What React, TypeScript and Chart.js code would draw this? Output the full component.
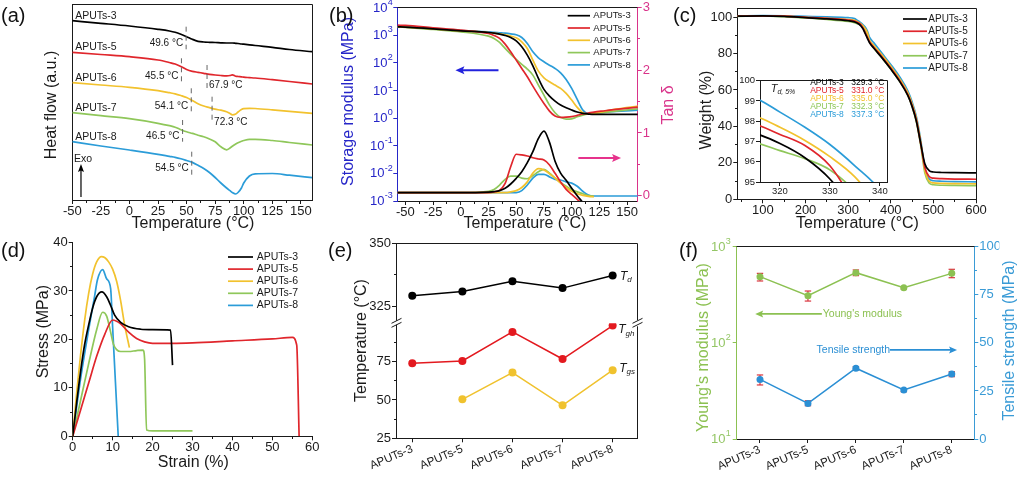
import React, { useEffect, useRef } from 'react';
import { Chart, registerables } from 'chart.js';

Chart.register(...registerables);

const FONT = '"Liberation Sans", Arial, Helvetica, sans-serif';
const INK = '#1a1a1a';
const BLUE_AX = '#2626c8';
const PINK_AX = '#d9338a';
const GREEN_AX = '#8cc152';
const CYAN_AX = '#3a9bd6';
const LW = 1.7;

// ---------- shared ----------
const samples = ['APUTs-3', 'APUTs-5', 'APUTs-6', 'APUTs-7', 'APUTs-8'];
const sampleColors = ['#000000', '#e0262c', '#f2c22e', '#8fc75a', '#2b9cd8'];

// ---------- (a) DSC ----------
const dscTemp = [-50, -25, 0, 25, 35, 40, 45, 50, 55, 60, 65, 70, 75, 80, 85, 88, 90, 93, 95, 98, 100, 105, 110, 125, 140, 160];
const dsc3 = [17.93, 17.67, 17.4, 17.07, 16.9, 16.77, 16.57, 16.33, 16.07, 15.87, 15.8, 15.77, 15.75, 15.72, 15.7, 15.7, 15.7, 15.67, 15.65, 15.6, 15.58, 15.52, 15.45, 15.27, 15.05, 14.83];
const dsc5 = [14.77, 14.55, 14.33, 14.0, 13.75, 13.6, 13.35, 13.05, 12.87, 12.77, 12.67, 12.57, 12.5, 12.45, 12.42, 12.45, 12.52, 12.38, 12.35, 12.31, 12.28, 12.24, 12.2, 12.03, 11.85, 11.6];
const dsc6 = [11.73, 11.5, 11.27, 10.93, 10.73, 10.62, 10.45, 10.25, 9.95, 9.63, 9.4, 9.24, 9.08, 8.98, 8.83, 8.65, 8.52, 8.6, 8.8, 9.05, 9.14, 9.17, 9.15, 9.02, 8.87, 8.67];
const dsc7 = [8.73, 8.43, 8.13, 7.67, 7.43, 7.28, 7.03, 6.82, 6.66, 6.48, 6.32, 6.1, 5.82, 5.32, 5.02, 5.2, 5.37, 5.6, 5.73, 5.87, 5.95, 6.07, 6.07, 5.95, 5.75, 5.5];
const dsc8 = [5.83, 5.4, 5.0, 4.57, 4.37, 4.27, 4.13, 3.95, 3.76, 3.47, 3.15, 2.75, 2.25, 1.7, 1.2, 0.93, 0.75, 0.6, 0.75, 1.2, 1.7, 2.4, 2.62, 2.65, 2.48, 2.23];
const dscTransitions = [49.6, 45.5, 67.9, 54.1, 72.3, 46.5, 54.5];
// annotation placement (heat-flow units)
const dscMarkTop = [17.33, 14.17, 13.5, 11.17, 10.33, 8.0, 4.83];
const dscMarkBottom = [15.07, 11.83, 11.17, 8.83, 7.83, 5.83, 2.5];
const dscMarkLabelY = [15.67, 12.4, 11.43, 9.33, 7.73, 6.33, 3.17];
const dscMarkSide = ['left', 'left', 'right', 'left', 'right', 'left', 'left'];
const dscNameY = [18.43, 15.3, 12.2, 9.2, 6.3];

// ---------- (b) DMA ----------
const dmaTemp = [-57, -50, -25, 0, 25, 30, 35, 40, 45, 50, 55, 60, 65, 70, 75, 80, 85, 90, 95, 100, 105, 110, 115, 120, 130, 140, 160];
const mod3 = [2000, 1950, 1694, 1436, 1248, 1180, 1086, 972, 824, 624, 378, 189, 78, 27.2, 10.9, 6.24, 4.11, 2.95, 2.36, 1.95, 1.65, 1.47, 1.4, 1.36, 1.36, 1.36, 1.36];
const mod5 = [2296, 2250, 1841, 1517, 1148, 972, 759, 473, 250, 125, 62.4, 31.2, 14.3, 6.78, 3.39, 1.79, 1.18, 1.06, 1.08, 1.13, 1.25, 1.4, 1.52, 1.65, 1.84, 2.06, 2.5];
const mod6 = [2000, 1950, 1694, 1436, 1248, 1180, 1114, 1028, 920, 801, 574, 330, 125, 50, 28.7, 20.6, 15.6, 11.8, 7.79, 4.48, 2.43, 1.56, 1.4, 1.47, 1.79, 2.11, 2.72];
const mod7 = [2000, 1920, 1603, 1318, 920, 759, 543, 330, 205, 132, 87, 59, 35.8, 15.6, 6.78, 2.95, 1.56, 1.06, 0.92, 0.94, 1.12, 1.28, 1.4, 1.47, 1.6, 1.79, 2.17];
const mod8 = [2000, 1950, 1694, 1465, 1318, 1250, 1216, 1180, 1114, 1028, 824, 500, 250, 152, 109, 82, 62.4, 43.5, 25, 11.8, 4.73, 1.95, 1.47, 1.52, 1.65, 1.73, 1.95];
const tan3 = [0.048, 0.048, 0.048, 0.048, 0.058, 0.065, 0.08, 0.117, 0.186, 0.276, 0.382, 0.526, 0.701, 0.913, 1.03, 0.85, 0.55, 0.36, 0.245, 0.12, 0.0, -0.11, -0.23, -0.35, null, null, null];
const tan5 = [0.048, 0.048, 0.048, 0.048, 0.05, 0.06, 0.085, 0.196, 0.462, 0.66, 0.65, 0.632, 0.605, 0.585, 0.568, 0.49, 0.356, 0.22, 0.1, 0.02, -0.06, -0.14, -0.22, null, null, null, null];
const tan6 = [0.048, 0.048, 0.048, 0.048, 0.048, 0.048, 0.048, 0.048, 0.06, 0.08, 0.13, 0.22, 0.36, 0.43, 0.41, 0.35, 0.28, 0.2, 0.13, 0.07, 0.03, 0.005, -0.01, -0.015, null, null, null];
const tan7 = [0.048, 0.048, 0.048, 0.048, 0.07, 0.1, 0.17, 0.26, 0.31, 0.31, 0.28, 0.27, 0.32, 0.38, 0.42, 0.36, 0.28, 0.21, 0.15, 0.1, 0.06, 0.03, 0.0, -0.01, null, null, null];
const tan8 = [0.048, 0.048, 0.048, 0.048, 0.048, 0.048, 0.048, 0.048, 0.048, 0.05, 0.08, 0.17, 0.28, 0.34, 0.34, 0.3, 0.26, 0.25, 0.22, 0.2, 0.15, 0.07, 0.01, -0.005, -0.005, -0.005, -0.005];

// ---------- (c) TGA ----------
const tgaTemp = [40, 100, 150, 200, 250, 300, 315, 320, 325, 330, 335, 340, 345, 350, 360, 380, 400, 420, 440, 450, 460, 470, 480, 490, 500, 520, 550, 600];
const wt3 = [100.5, 100.7, 100.4, 99.7, 99.0, 98.0, 97.4, 96.9, 96.2, 95.15, 93.5, 91.0, 88.5, 86.0, 83.0, 77.5, 71.5, 65.0, 57.0, 51.0, 43.0, 31.0, 19.5, 15.8, 15.0, 14.7, 14.6, 14.5];
const wt5 = [100.5, 100.7, 100.5, 99.9, 99.3, 98.4, 97.85, 97.35, 96.8, 95.8, 93.9, 91.5, 89.0, 86.5, 83.5, 78.0, 72.0, 65.5, 57.5, 51.5, 43.5, 31.0, 17.5, 12.5, 11.6, 11.3, 11.1, 11.0];
const wt6 = [100.5, 100.7, 100.5, 99.9, 99.3, 98.7, 98.25, 97.7, 97.05, 96.25, 95.25, 93.7, 91.5, 87.5, 84.5, 79.0, 73.0, 66.5, 58.5, 52.5, 44.5, 32.0, 16.0, 10.0, 9.0, 8.7, 8.6, 8.5];
const wt7 = [100.4, 100.6, 100.2, 99.5, 98.7, 97.6, 96.95, 96.55, 96.15, 95.6, 94.5, 92.5, 89.5, 86.5, 83.0, 77.5, 71.5, 65.0, 57.0, 51.0, 42.5, 30.0, 14.5, 9.0, 8.0, 7.7, 7.6, 7.5];
const wt8 = [100.6, 100.8, 100.7, 100.4, 100.1, 99.7, 99.15, 98.45, 97.7, 96.85, 95.8, 94.6, 92.5, 89.0, 86.0, 80.0, 74.0, 67.5, 59.5, 53.5, 45.5, 33.0, 17.0, 11.2, 10.2, 9.9, 9.7, 9.6];

// ---------- (d) tensile ----------
const strain3 = [0, 1, 2, 3, 4, 5, 6, 7.3, 8.5, 9.5, 10.5, 12, 14, 17, 20, 24.5, 25.0];
const stress3 = [0, 7, 13.5, 19, 23, 26.5, 28.8, 29.8, 28.8, 27, 25, 23.5, 22.6, 22.1, 22, 21.9, 14.7];
const strain5 = [0, 2, 4, 6, 8, 10, 12, 14, 16, 18, 20, 25, 30, 40, 50, 55, 56.1, 56.7];
const stress5 = [0, 5.5, 11, 16.5, 21, 24, 23.2, 21.5, 20.2, 19.5, 19.2, 19.2, 19.3, 19.7, 20.1, 20.4, 18.8, 0];
const strain6 = [0, 1, 2, 3, 4, 5, 6, 7.2, 8, 9, 10, 11, 12, 13, 14.2];
const stress6 = [0, 9, 17, 24, 29.5, 33.5, 36, 37.1, 36.9, 36, 34.5, 32, 28, 23, 18.3];
const strain7 = [0, 2, 4, 6, 7.5, 8.5, 9.5, 10.2, 11, 12, 14, 16, 17.6, 18, 18.5, 20, 30];
const stress7 = [0, 7.5, 15, 22, 25.6, 24.8, 21.5, 19, 17.9, 17.5, 17.5, 17.7, 17.8, 16, 1.3, 1.1, 1.1];
const strain8 = [0, 2, 4, 5.5, 6.2, 7.5, 8.5, 9.5, 10, 10.7, 11.4];
const stress8 = [0, 12, 22, 29, 32.3, 34.4, 32.5, 30.5, 22.5, 11.2, 0];

// ---------- (e) characteristic temperatures ----------
const td5 = [329.3, 331.0, 335.0, 332.3, 337.3];
const tgh = [74.0, 75.4, 94.4, 76.7, 98.5];
const tgs = [null, 50.4, 67.9, 46.5, 69.4];

// ---------- (f) mechanical ----------
const youngs = [488, 309, 537, 375, 528];
const youngsHi = [528, 346, 573, 384, 582];
const youngsLo = [440, 272, 500, 363, 476];
const tensile = [31.0, 18.5, 36.8, 25.5, 33.8];
const tensileHi = [33.3, 19.9, 37.6, 26.2, 35.0];
const tensileLo = [28.1, 17.3, 35.9, 24.6, 32.4];

// ================= helpers =================
const al = (p: number) => Math.round(p - 0.5) + 0.5;

function text(ctx: any, s: string, x: number, y: number, o: any = {}) {
  ctx.save();
  ctx.font = `${o.italic ? 'italic ' : ''}${o.size || 13}px ${FONT}`;
  ctx.fillStyle = o.color || INK;
  ctx.textAlign = o.align || 'left';
  ctx.textBaseline = o.baseline || 'middle';
  ctx.translate(x, y);
  if (o.rot) ctx.rotate(o.rot);
  ctx.fillText(s, 0, 0);
  ctx.restore();
}

function seg(ctx: any, x0: number, y0: number, x1: number, y1: number, color: string, lw = 1, dash: number[] | null = null) {
  ctx.save();
  ctx.strokeStyle = color;
  ctx.lineWidth = lw;
  if (dash) ctx.setLineDash(dash);
  ctx.beginPath();
  ctx.moveTo(x0, y0);
  ctx.lineTo(x1, y1);
  ctx.stroke();
  ctx.restore();
}

function arrow(ctx: any, x0: number, y0: number, x1: number, y1: number, color: string, lw = 1.5, hl = 8, hw = 3.5) {
  const ang = Math.atan2(y1 - y0, x1 - x0);
  ctx.save();
  ctx.strokeStyle = color;
  ctx.fillStyle = color;
  ctx.lineWidth = lw;
  ctx.beginPath();
  ctx.moveTo(x0, y0);
  ctx.lineTo(x1 - hl * 0.7 * Math.cos(ang), y1 - hl * 0.7 * Math.sin(ang));
  ctx.stroke();
  ctx.translate(x1, y1);
  ctx.rotate(ang);
  ctx.beginPath();
  ctx.moveTo(0, 0);
  ctx.lineTo(-hl, -hw);
  ctx.lineTo(-hl * 0.8, 0);
  ctx.lineTo(-hl, hw);
  ctx.closePath();
  ctx.fill();
  ctx.restore();
}

function minor(ctx: any, s: any, vals: number[], side: string, color: string, len = 2.5) {
  ctx.save();
  ctx.strokeStyle = color;
  ctx.lineWidth = 1;
  ctx.beginPath();
  for (const v of vals) {
    const p = al(s.getPixelForValue(v));
    if (side === 'bottom') {
      const y = al(s.top);
      ctx.moveTo(p, y);
      ctx.lineTo(p, y + len);
    } else if (side === 'left') {
      const x = al(s.right);
      ctx.moveTo(x, p);
      ctx.lineTo(x - len, p);
    } else {
      const x = al(s.left);
      ctx.moveTo(x, p);
      ctx.lineTo(x + len, p);
    }
  }
  ctx.stroke();
  ctx.restore();
}

function pow10(ctx: any, exp: number, xRight: number, y: number, color: string, size = 13) {
  const e = String(exp);
  ctx.save();
  ctx.fillStyle = color;
  ctx.textBaseline = 'middle';
  ctx.font = `${Math.round(size * 0.68)}px ${FONT}`;
  const ew = ctx.measureText(e).width;
  ctx.textAlign = 'left';
  ctx.fillText(e, xRight - ew, y - size * 0.4);
  ctx.font = `${size}px ${FONT}`;
  ctx.textAlign = 'right';
  ctx.fillText('10', xRight - ew - 0.3, y + 0.5);
  ctx.restore();
}

function legend(ctx: any, x0: number, x1: number, xt: number, y0: number, dy: number, size: number) {
  samples.forEach((s, i) => {
    const y = y0 + i * dy;
    seg(ctx, x0, y, x1, y, sampleColors[i], LW);
    text(ctx, s, xt, y, { size });
  });
}

function topRight(ctx: any, a: any, right = true) {
  seg(ctx, al(a.left), al(a.top), al(a.right), al(a.top), INK);
  if (right) seg(ctx, al(a.right), al(a.top), al(a.right), al(a.bottom), INK);
}

function subT(ctx: any, main: string, sub: string, x: number, y: number, size: number, color = INK) {
  ctx.save();
  ctx.fillStyle = color;
  ctx.textBaseline = 'middle';
  ctx.textAlign = 'left';
  ctx.font = `italic ${size}px ${FONT}`;
  ctx.fillText(main, x, y);
  const w = ctx.measureText(main).width;
  ctx.font = `italic ${Math.round(size * 0.68)}px ${FONT}`;
  ctx.fillText(sub, x + w, y + size * 0.3);
  ctx.restore();
}

function axisDef(pos: string, min: number, max: number, ticks: number[], color: string, o: any = {}) {
  const t: any = {
    display: !o.hideLabels,
    color,
    font: { family: FONT, size: o.size || 13, lineHeight: 1 },
    padding: o.tpad != null ? o.tpad : 1,
    autoSkip: false,
    maxRotation: o.rot || 0,
    minRotation: o.rot || 0,
  };
  if (o.cb) t.callback = o.cb;
  const d: any = {
    type: o.type || 'linear',
    position: pos,
    min,
    max,
    border: { display: true, color, width: 1 },
    grid: { display: true, drawOnChartArea: false, drawTicks: !o.noTicks, tickLength: 4, color, lineWidth: 1 },
    ticks: t,
    afterBuildTicks: (s: any) => {
      s.ticks = ticks.map((v) => ({ value: v }));
    },
    afterFit: (s: any) => {
      if (pos === 'bottom') s.height = o.fit;
      else s.width = o.fit;
    },
  };
  if (o.stack) {
    d.stack = o.stack;
    d.stackWeight = o.stackWeight;
  }
  return d;
}

function series(label: string, xs: number[], ys: any[], color: string, yAxisID = 'y', extra: any = {}) {
  return {
    label,
    data: xs.map((x, i) => ({ x, y: ys[i] })),
    borderColor: color,
    backgroundColor: color,
    borderWidth: LW,
    pointRadius: 0,
    cubicInterpolationMode: 'monotone',
    fill: false,
    yAxisID,
    ...extra,
  };
}

function cfg(datasets: any[], scales: any, padding: any, draw: (c: any, ctx: any) => void, pre?: (c: any, ctx: any) => void) {
  return {
    type: 'line',
    data: { datasets },
    options: {
      responsive: false,
      maintainAspectRatio: false,
      animation: false,
      devicePixelRatio: 1,
      events: [],
      layout: { padding },
      plugins: { legend: { display: false }, tooltip: { enabled: false }, title: { display: false } },
      scales,
    },
    plugins: [
      {
        id: 'deco',
        beforeDatasetsDraw: (c: any) => {
          if (pre) pre(c, c.ctx);
        },
        afterDraw: (c: any) => draw(c, c.ctx),
      },
    ],
  };
}

// ================= panels =================
function configA() {
  const ds = [dsc3, dsc5, dsc6, dsc7, dsc8].map((ys, i) => series(samples[i], dscTemp, ys, sampleColors[i]));
  const scales = {
    x: axisDef('bottom', -50, 160, [-50, -25, 0, 25, 50, 75, 100, 125, 150], INK, { fit: 20 }),
    y: axisDef('left', 0, 19.53, [0], INK, { fit: 20, noTicks: true, hideLabels: true }),
  };
  return cfg(ds, scales, { left: 52.3, top: 4.7, right: 27.7, bottom: 15 }, (c, ctx) => {
    const a = c.chartArea, xs = c.scales.x, ys = c.scales.y;
    topRight(ctx, a);
    minor(ctx, xs, [-37.5, -12.5, 12.5, 37.5, 62.5, 87.5, 112.5, 137.5], 'bottom', INK);
    dscTransitions.forEach((t, i) => {
      const x = xs.getPixelForValue(t);
      seg(ctx, x, ys.getPixelForValue(dscMarkTop[i]), x, ys.getPixelForValue(dscMarkBottom[i]), '#666', 1, [5, 4]);
      const left = dscMarkSide[i] === 'left';
      text(ctx, `${t.toFixed(1)} °C`, left ? x - 3 : x + 2, ys.getPixelForValue(dscMarkLabelY[i]), { size: 10, align: left ? 'right' : 'left' });
    });
    samples.forEach((s, i) => text(ctx, s, xs.getPixelForValue(-47.4), ys.getPixelForValue(dscNameY[i]), { size: 10.5 }));
    text(ctx, 'Exo', xs.getPixelForValue(-48.5), ys.getPixelForValue(4.1), { size: 10.5 });
    arrow(ctx, xs.getPixelForValue(-42.4), ys.getPixelForValue(0.3), xs.getPixelForValue(-42.4), ys.getPixelForValue(3.6), '#000', 1.2, 8, 3);
    text(ctx, 'Temperature (°C)', 193, 224, { size: 16, align: 'center' });
    text(ctx, 'Heat flow (a.u.)', 51.7, 105, { size: 16, align: 'center', rot: -Math.PI / 2 });
  });
}

function configB() {
  const mods = [mod3, mod5, mod6, mod7, mod8];
  const tans = [tan3, tan5, tan6, tan7, tan8];
  const ds = [
    ...mods.map((ys, i) => series(samples[i], dmaTemp, ys, sampleColors[i], 'y')),
    ...tans.map((ys, i) => series(samples[i] + ' tanδ', dmaTemp, ys, sampleColors[i], 'y2')),
  ];
  const scales = {
    x: axisDef('bottom', -57.2, 159.5, [-50, -25, 0, 25, 50, 75, 100, 125, 150], INK, { fit: 20 }),
    y: axisDef('left', 0.001, 10000, [0.001, 0.01, 0.1, 1, 10, 100, 1000, 10000], BLUE_AX, { fit: 40, hideLabels: true, type: 'logarithmic' }),
    y2: axisDef('right', -0.085, 3, [0, 1, 2, 3], PINK_AX, { fit: 20 }),
  };
  return cfg(ds, scales, { left: 17.3, top: 7.3, right: 22.3, bottom: 14 }, (c, ctx) => {
    const a = c.chartArea, xs = c.scales.x, ys = c.scales.y, y2 = c.scales.y2;
    seg(ctx, al(a.left), al(a.top), al(a.right), al(a.top), INK);
    minor(ctx, xs, [-37.5, -12.5, 12.5, 37.5, 62.5, 87.5, 112.5, 137.5], 'bottom', INK);
    minor(ctx, y2, [0.5, 1.5, 2.5], 'right', PINK_AX);
    for (let e = -3; e <= 4; e++) pow10(ctx, e, a.left - 4.5, ys.getPixelForValue(Math.pow(10, e)), BLUE_AX);
    legend(ctx, 227.7, 250, 253.3, 15.7, 12.3, 9.5);
    const yb = ys.getPixelForValue(54);
    arrow(ctx, xs.getPixelForValue(34), yb, xs.getPixelForValue(-4.8), yb, '#2222dd', 2, 9, 4);
    const yp = y2.getPixelForValue(0.6);
    arrow(ctx, xs.getPixelForValue(106), yp, xs.getPixelForValue(144.5), yp, '#e6338c', 2, 9, 4);
    text(ctx, 'Temperature (°C)', 185, 224, { size: 16, align: 'center' });
    text(ctx, 'Storage modulus (MPa)', 8.3, 101.5, { size: 16, align: 'center', rot: -Math.PI / 2, color: BLUE_AX });
    text(ctx, 'Tan δ', 328.3, 105, { size: 16, align: 'center', rot: -Math.PI / 2, color: PINK_AX });
  });
}

function tgaDatasets() {
  return [wt3, wt5, wt6, wt7, wt8].map((ys, i) => series(samples[i], tgaTemp, ys, sampleColors[i]));
}

function configC() {
  const scales = {
    x: axisDef('bottom', 40, 600, [100, 200, 300, 400, 500, 600], INK, { fit: 20 }),
    y: axisDef('left', 0, 105, [0, 20, 40, 60, 80, 100], INK, { fit: 40 }),
  };
  return cfg(tgaDatasets(), scales, { left: 17.3, top: 8, right: 48, bottom: 15.7 }, (c, ctx) => {
    const a = c.chartArea, xs = c.scales.x, ys = c.scales.y;
    topRight(ctx, a);
    minor(ctx, xs, [50, 150, 250, 350, 450, 550], 'bottom', INK);
    minor(ctx, ys, [10, 30, 50, 70, 90], 'left', INK);
    legend(ctx, 223, 247, 248.3, 19, 12.25, 10);
    text(ctx, 'Temperature (°C)', 177.5, 224, { size: 16, align: 'center' });
    text(ctx, 'Weight (%)', 26.7, 110, { size: 16, align: 'center', rot: -Math.PI / 2 });
  });
}

function configInset() {
  const scales = {
    x: axisDef('bottom', 316, 341.5, [320, 330, 340], INK, { fit: 14, size: 9.5 }),
    y: axisDef('left', 95, 100, [95, 96, 97, 98, 99, 100], INK, { fit: 24, size: 9.5 }),
  };
  return cfg(tgaDatasets(), scales, { left: 1, top: 4, right: 4.7, bottom: 2 }, (c, ctx) => {
    const a = c.chartArea;
    topRight(ctx, a);
    subT(ctx, 'T', 'd, 5%', 35.7, 13.5, 11);
    samples.forEach((s, i) => {
      const y = 8 + i * 7.8;
      text(ctx, s, 75.2, y, { size: 8.5, color: sampleColors[i] });
      text(ctx, `${td5[i].toFixed(1)} °C`, 116.2, y, { size: 8.5, color: sampleColors[i] });
    });
  });
}

function configD() {
  const xs = [strain3, strain5, strain6, strain7, strain8];
  const ys = [stress3, stress5, stress6, stress7, stress8];
  const ds = xs.map((x, i) => series(samples[i], x, ys[i], sampleColors[i]));
  const scales = {
    x: axisDef('bottom', 0, 60, [0, 10, 20, 30, 40, 50, 60], INK, { fit: 20 }),
    y: axisDef('left', 0, 40, [0, 10, 20, 30, 40], INK, { fit: 40 }),
  };
  return cfg(ds, scales, { left: 32.7, top: 7.3, right: 27.7, bottom: 21.7 }, (c, ctx) => {
    minor(ctx, c.scales.x, [5, 15, 25, 35, 45, 55], 'bottom', INK);
    minor(ctx, c.scales.y, [5, 15, 25, 35], 'left', INK);
    legend(ctx, 228, 253, 256.7, 22, 12.1, 10.5);
    text(ctx, 'Strain (%)', 193.3, 228, { size: 16, align: 'center' });
    text(ctx, 'Stress (MPa)', 43.3, 96.7, { size: 16, align: 'center', rot: -Math.PI / 2 });
  });
}

function configE() {
  const idx = [0, 1, 2, 3, 4];
  const pt = (color: string) => ({ pointRadius: 4, pointBackgroundColor: color, pointBorderWidth: 0, cubicInterpolationMode: 'default', tension: 0, borderWidth: 1.5 });
  const ds = [
    series('Td', idx, td5, '#000000', 'yHigh', pt('#000000')),
    series('Tgh', idx, tgh, '#e3191f', 'yLow', pt('#e3191f')),
    series('Tgs', idx, tgs, '#f0c22e', 'yLow', pt('#f0c22e')),
  ];
  const scales: any = {
    x: axisDef('bottom', -0.325, 4.5, [0, 1, 2, 3, 4], INK, { fit: 39, rot: 23, size: 11.5, cb: (v: number) => samples[Math.round(v)] }),
    yLow: axisDef('left', 25, 100, [25, 50, 75], INK, { fit: 40, stack: 'e', stackWeight: 115 }),
    yHigh: axisDef('left', 318.4, 350, [325, 350], INK, { fit: 40, stack: 'e', stackWeight: 80 }),
  };
  return cfg(ds, scales, { left: 16, top: 8.3, right: 42.3, bottom: 0.7 }, (c, ctx) => {
    const a = c.chartArea, yl = c.scales.yLow, yh = c.scales.yHigh, xs = c.scales.x;
    seg(ctx, al(a.left), al(a.top), al(a.right), al(a.top), INK);
    const yb = yl.top;
    const xr = al(a.right), xl = al(a.left);
    seg(ctx, xr, al(a.top), xr, yb - 3, INK);
    seg(ctx, xr, yb + 3, xr, al(a.bottom), INK);
    minor(ctx, yl, [37.5, 62.5, 87.5], 'left', INK);
    minor(ctx, yh, [337.5], 'left', INK);
    for (const x of [xl, xr]) {
      ctx.save();
      ctx.fillStyle = '#fff';
      ctx.beginPath();
      ctx.moveTo(x - 5, yb);
      ctx.lineTo(x + 5, yb - 5);
      ctx.lineTo(x + 5, yb - 1);
      ctx.lineTo(x - 5, yb + 4);
      ctx.closePath();
      ctx.fill();
      ctx.restore();
      seg(ctx, x - 5, yb, x + 5, yb - 5, INK, 1);
      seg(ctx, x - 5, yb + 4, x + 5, yb - 1, INK, 1);
    }
    const px = xs.getPixelForValue(4);
    subT(ctx, 'T', 'd', px + 7.3, yh.getPixelForValue(td5[4]) + 1, 12);
    subT(ctx, 'T', 'gh', px + 5.6, yl.getPixelForValue(tgh[4]) + 4.3, 12);
    subT(ctx, 'T', 'gs', px + 6.6, yl.getPixelForValue(tgs[4] as number) - 2, 12);
    text(ctx, 'Temperature (°C)', 21.7, 105.5, { size: 16, align: 'center', rot: -Math.PI / 2 });
  });
}

function configF() {
  const idx = [0, 1, 2, 3, 4];
  const pt = (color: string) => ({ pointRadius: 3.5, pointBackgroundColor: color, pointBorderWidth: 0, cubicInterpolationMode: 'default', tension: 0, borderWidth: 1.5 });
  const ds = [
    series("Young's modulus", idx, youngs, '#8cc152', 'y', pt('#8cc152')),
    series('Tensile strength', idx, tensile, '#2b8fd4', 'y2', pt('#2b8fd4')),
  ];
  const scales = {
    x: axisDef('bottom', -0.486, 4.47, [0, 1, 2, 3, 4], INK, { fit: 38, rot: 23, size: 11.5, cb: (v: number) => samples[Math.round(v)] }),
    y: axisDef('left', 10, 1000, [10, 100, 1000], GREEN_AX, { fit: 40, hideLabels: true, type: 'logarithmic' }),
    y2: axisDef('right', 0, 100, [0, 25, 50, 75, 100], CYAN_AX, { fit: 25 }),
  };
  const errBars = (c: any, ctx: any) => {
    const xs = c.scales.x;
    const draw = (s: any, hi: number[], lo: number[]) => {
      idx.forEach((i) => {
        const x = xs.getPixelForValue(i);
        const y0 = s.getPixelForValue(hi[i]);
        const y1 = s.getPixelForValue(lo[i]);
        seg(ctx, x, y0, x, y1, '#d9363e', 1.2);
        seg(ctx, x - 3.2, y0, x + 3.2, y0, '#d9363e', 1.2);
        seg(ctx, x - 3.2, y1, x + 3.2, y1, '#d9363e', 1.2);
      });
    };
    draw(c.scales.y, youngsHi, youngsLo);
    draw(c.scales.y2, tensileHi, tensileLo);
  };
  return cfg(ds, scales, { left: 16.7, top: 11.7, right: 24.7, bottom: 1 }, (c, ctx) => {
    const a = c.chartArea, xs = c.scales.x, ys = c.scales.y, y2 = c.scales.y2;
    seg(ctx, al(a.left), al(a.top), al(a.right), al(a.top), INK);
    minor(ctx, y2, [12.5, 37.5, 62.5, 87.5], 'right', CYAN_AX);
    for (let e = 1; e <= 3; e++) pow10(ctx, e, a.left - 6, ys.getPixelForValue(Math.pow(10, e)), '#94c665');
    const yy = ys.getPixelForValue(200);
    arrow(ctx, xs.getPixelForValue(1.29), yy, xs.getPixelForValue(-0.1), yy, '#8cc152', 1.8, 8, 3.5);
    text(ctx, "Young's modulus", xs.getPixelForValue(1.31), yy, { size: 10.5, color: '#8cc152' });
    const yt = y2.getPixelForValue(46.3);
    text(ctx, 'Tensile strength', xs.getPixelForValue(1.18), yt, { size: 10.5, color: '#2b8fd4' });
    arrow(ctx, xs.getPixelForValue(2.71), yt, xs.getPixelForValue(4.11), yt, '#2b8fd4', 1.8, 8, 3.5);
    text(ctx, "Young's modulus (MPa)", 23.3, 112.5, { size: 16, align: 'center', rot: -Math.PI / 2, color: '#8cc152' });
    text(ctx, 'Tensile strength (MPa)', 330, 105.5, { size: 16, align: 'center', rot: -Math.PI / 2, color: CYAN_AX });
  }, errBars);
}

// ================= components =================
function ChartCanvas({ x, y, w, h, make }: any) {
  const ref = useRef<HTMLCanvasElement | null>(null);
  useEffect(() => {
    const chart = new Chart(ref.current as HTMLCanvasElement, make() as any);
    return () => chart.destroy();
  }, []);
  return <canvas ref={ref} width={w} height={h} style={{ position: 'absolute', left: x, top: y, width: w, height: h }} />;
}

const panelLabels = [
  { t: '(a)', x: 1, y: 5 },
  { t: '(b)', x: 329, y: 5 },
  { t: '(c)', x: 673, y: 5 },
  { t: '(d)', x: 1, y: 240 },
  { t: '(e)', x: 328, y: 240 },
  { t: '(f)', x: 679, y: 240 },
];

export default function App() {
  return (
    <div style={{ position: 'absolute', left: 0, top: 0, width: 1024, height: 478, background: '#fff', overflow: 'hidden' }}>
      <ChartCanvas x={0} y={0} w={340} h={235} make={configA} />
      <ChartCanvas x={340} y={0} w={340} h={235} make={configB} />
      <ChartCanvas x={680} y={0} w={344} h={235} make={configC} />
      <ChartCanvas x={735} y={75} w={157} h={123} make={configInset} />
      <ChartCanvas x={0} y={235} w={340} h={243} make={configD} />
      <ChartCanvas x={340} y={235} w={340} h={243} make={configE} />
      <ChartCanvas x={680} y={235} w={344} h={243} make={configF} />
      {panelLabels.map((p) => (
        <span
          key={p.t}
          style={{ position: 'absolute', left: p.x, top: p.y, font: `20px ${FONT}`, lineHeight: '20px', color: '#111', whiteSpace: 'nowrap' }}
        >
          {p.t}
        </span>
      ))}
    </div>
  );
}
